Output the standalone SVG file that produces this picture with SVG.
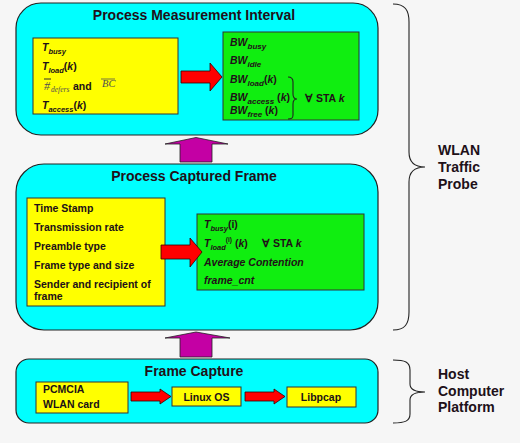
<svg xmlns="http://www.w3.org/2000/svg" width="520" height="443" viewBox="0 0 520 443">
<style>
.t{font-family:"Liberation Sans",Arial,sans-serif;font-weight:bold;fill:#201018}
.title{font-size:14px;text-anchor:middle}
.side{font-size:14px}
.it{font-style:italic}
.s10{font-size:10.5px}
.s105{font-size:10.5px}
.sub{font-size:7.5px}
.sub2{font-size:8px}
.serif{font-family:"Liberation Serif","Times New Roman",serif;font-weight:normal;font-style:italic;fill:#505050}
.cyan{fill:#00ffff;stroke:#222;stroke-width:1.2}
.yel{fill:#ffff00;stroke:#333;stroke-width:1}
.grn{fill:#10ee10;stroke:#333;stroke-width:1}
.red{fill:#ff0000;stroke:#300;stroke-width:0.8}
.mag{fill:#c400a4;stroke:#222;stroke-width:0.8}
.brace{fill:none;stroke:#222;stroke-width:1.1}
</style>
<rect width="520" height="443" fill="#f6f6f6"/>

<g id="measurement">
  <rect class="cyan" x="16" y="3" width="362" height="132" rx="25"/>
  <text class="t title" x="194" y="20">Process Measurement Interval</text>
  <g id="measurement-inputs">
    <rect class="yel" x="33" y="38" width="145" height="76"/>
    <text class="t it s105" x="42" y="51">T<tspan class="sub" dy="3">busy</tspan></text>
    <text class="t it s105" x="42" y="70">T<tspan class="sub" dy="3">load</tspan><tspan dy="-3" font-style="normal">(</tspan>k<tspan font-style="normal">)</tspan></text>
    <line x1="44" y1="79" x2="51" y2="79" stroke="#303030" stroke-width="1"/>
    <text class="serif" x="44" y="90" font-size="12" font-style="normal">#</text>
    <text class="serif" x="51" y="92" font-size="7.5">defers</text>
    <text class="t s105" x="73" y="90">and</text>
    <line x1="101" y1="79" x2="115" y2="79" stroke="#505050" stroke-width="0.8"/>
    <text class="serif" x="102" y="87" font-size="10.5">BC</text>
    <text class="t it s105" x="42" y="109">T<tspan class="sub" dy="3">access</tspan><tspan dy="-3" font-style="normal">(</tspan>k<tspan font-style="normal">)</tspan></text>
  </g>
  <g id="measurement-outputs">
    <rect class="grn" x="223" y="32" width="136" height="88"/>
    <text class="t it s10" x="230" y="46">BW<tspan class="sub2" dy="3">busy</tspan></text>
    <text class="t it s10" x="230" y="64">BW<tspan class="sub2" dy="3">idle</tspan></text>
    <text class="t it s10" x="230" y="83">BW<tspan class="sub2" dy="3">load</tspan><tspan dy="-3" font-style="normal">(</tspan>k<tspan font-style="normal">)</tspan></text>
    <text class="t it s10" x="230" y="101">BW<tspan class="sub2" dy="2.5">access</tspan><tspan dy="-2.5" font-style="normal"> (</tspan>k<tspan font-style="normal">)</tspan></text>
    <text class="t it s10" x="230" y="114">BW<tspan class="sub2" dy="2.5">free</tspan><tspan dy="-2.5" font-style="normal"> (</tspan>k<tspan font-style="normal">)</tspan></text>
    <path class="brace" d="M288,77 C292,77 293,79 293,82 L293,94 C293,97 294,99 297,99 C294,99 293,101 293,104 L293,115 C293,118 292,119 288,119"/>
    <text class="t s105" x="305" y="102">∀ STA <tspan class="it">k</tspan></text>
  </g>
</g>

<g id="captured">
  <rect class="cyan" x="16" y="164" width="362" height="166" rx="28"/>
  <text class="t title" x="194" y="181">Process Captured Frame</text>
  <g id="captured-inputs">
    <rect class="yel" x="27" y="198" width="138" height="108"/>
    <text class="t s105" x="34" y="212">Time Stamp</text>
    <text class="t s105" x="34" y="231">Transmission rate</text>
    <text class="t s105" x="34" y="250">Preamble type</text>
    <text class="t s105" x="34" y="269">Frame type and size</text>
    <text class="t s105" x="34" y="288">Sender and recipient of</text>
    <text class="t s105" x="34" y="300">frame</text>
  </g>
  <g id="captured-outputs">
    <rect class="grn" x="197" y="214" width="167" height="76"/>
    <text class="t it s105" x="204" y="228">T<tspan class="sub" dy="3">busy</tspan><tspan dy="-3" font-style="normal">(i)</tspan></text>
    <text class="t it s105" x="204" y="247">T<tspan class="sub" dy="3">load</tspan><tspan font-size="6.5" font-style="normal" dy="-8">(i)</tspan><tspan dy="5" font-style="normal"> (</tspan>k<tspan font-style="normal">)</tspan></text>
    <text class="t s105" x="262" y="247">∀ STA <tspan class="it">k</tspan></text>
    <text class="t it s105" x="204" y="266">Average Contention</text>
    <text class="t it s105" x="204" y="284">frame_cnt</text>
  </g>
</g>

<g id="capture">
  <rect class="cyan" x="16" y="359" width="362" height="64" rx="13"/>
  <text class="t title" x="194" y="376">Frame Capture</text>
  <g id="pcmcia">
    <rect class="yel" x="36" y="382" width="92" height="31"/>
    <text class="t s105" x="43" y="393">PCMCIA</text>
    <text class="t s105" x="43" y="408">WLAN card</text>
  </g>
  <g id="linux">
    <rect class="yel" x="172" y="387" width="69" height="19"/>
    <text class="t s105" x="206.5" y="401" text-anchor="middle">Linux OS</text>
  </g>
  <g id="libpcap">
    <rect class="yel" x="287" y="387" width="69" height="20"/>
    <text class="t s105" x="321" y="401" text-anchor="middle">Libpcap</text>
  </g>
</g>

<g id="connectors">
  <polygon class="red" points="181,71 210,71 210,63 222,77 210,91 210,83 181,83"/>
  <polygon class="red" points="161,245 190,245 190,238 202,252 190,267 190,259 161,259"/>
  <polygon class="red" points="131,392 160,392 160,389 171,396.5 160,404 160,401 131,401"/>
  <polygon class="red" points="245,392 274,392 274,389 285,396.5 274,404 274,401 245,401"/>
  <polygon class="mag" points="180,162 180,144 165,144 196,137.5 228,144 212,144 212,162"/>
  <polygon class="mag" points="180,357 180,338 165,338 196,332 230,338 212,338 212,357"/>
</g>

<g id="wlan-probe">
  <path class="brace" d="M393,4 C405,4 409,10 409,22 L409,152 C409,162 415,167 425,167 C415,167 409,172 409,182 L409,312 C409,324 405,330 393,330"/>
  <text class="t side" x="438" y="155">WLAN</text>
  <text class="t side" x="438" y="172">Traffic</text>
  <text class="t side" x="438" y="189">Probe</text>
</g>

<g id="host-platform">
  <path class="brace" d="M393,360 C405,360 410,362 410,370 L410,384 C410,390 415,392 425,392 C415,392 410,394 410,400 L410,414 C410,421 405,423 393,423"/>
  <text class="t side" x="438" y="379">Host</text>
  <text class="t side" x="438" y="396">Computer</text>
  <text class="t side" x="438" y="412">Platform</text>
</g>
</svg>
